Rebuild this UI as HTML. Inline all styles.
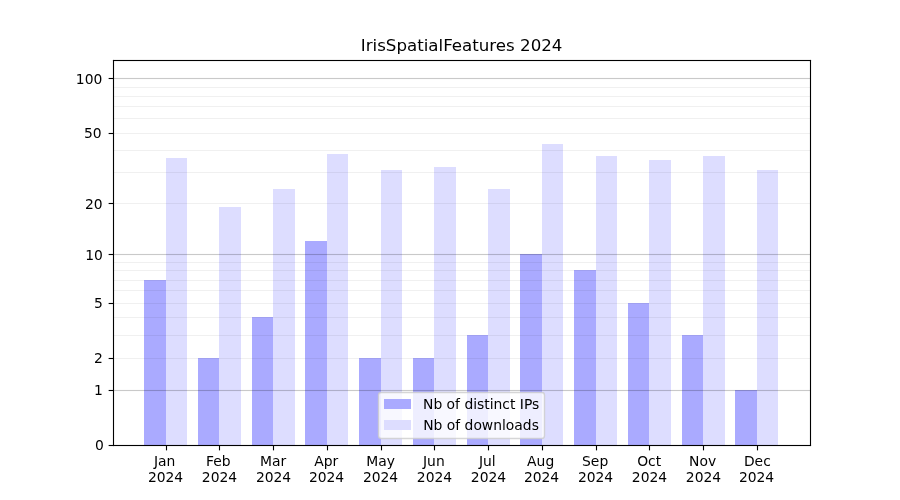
<!DOCTYPE html>
<html><head><meta charset="utf-8"><title>IrisSpatialFeatures 2024</title>
<style>html,body{margin:0;padding:0;background:#fff;width:900px;height:500px;overflow:hidden}</style>
</head><body>
<svg width="900" height="500" viewBox="0 0 900 500" style="display:block;will-change:transform">
<rect width="900" height="500" fill="#fff"/>
<g shape-rendering="crispEdges">
<rect x="144" y="280" width="22" height="165" fill="#aaaaff"/>
<rect x="198" y="358" width="21" height="87" fill="#aaaaff"/>
<rect x="252" y="317" width="21" height="128" fill="#aaaaff"/>
<rect x="305" y="241" width="22" height="204" fill="#aaaaff"/>
<rect x="359" y="358" width="22" height="87" fill="#aaaaff"/>
<rect x="413" y="358" width="21" height="87" fill="#aaaaff"/>
<rect x="467" y="335" width="21" height="110" fill="#aaaaff"/>
<rect x="520" y="254" width="22" height="191" fill="#aaaaff"/>
<rect x="574" y="270" width="22" height="175" fill="#aaaaff"/>
<rect x="628" y="303" width="21" height="142" fill="#aaaaff"/>
<rect x="682" y="335" width="21" height="110" fill="#aaaaff"/>
<rect x="735" y="390" width="22" height="55" fill="#aaaaff"/>
<rect x="166" y="158" width="21" height="287" fill="#ddddff"/>
<rect x="219" y="207" width="22" height="238" fill="#ddddff"/>
<rect x="273" y="189" width="22" height="256" fill="#ddddff"/>
<rect x="327" y="154" width="21" height="291" fill="#ddddff"/>
<rect x="381" y="170" width="21" height="275" fill="#ddddff"/>
<rect x="434" y="167" width="22" height="278" fill="#ddddff"/>
<rect x="488" y="189" width="22" height="256" fill="#ddddff"/>
<rect x="542" y="144" width="21" height="301" fill="#ddddff"/>
<rect x="596" y="156" width="21" height="289" fill="#ddddff"/>
<rect x="649" y="160" width="22" height="285" fill="#ddddff"/>
<rect x="703" y="156" width="22" height="289" fill="#ddddff"/>
<rect x="757" y="170" width="21" height="275" fill="#ddddff"/>
</g>
<g fill="#000">
<rect x="113" y="389.944" width="697" height="1.111" fill-opacity="0.21"/>
<rect x="113" y="253.944" width="697" height="1.111" fill-opacity="0.21"/>
<rect x="113" y="77.944" width="697" height="1.111" fill-opacity="0.21"/>
<rect x="113" y="357.944" width="697" height="1.111" fill-opacity="0.06"/>
<rect x="113" y="334.944" width="697" height="1.111" fill-opacity="0.06"/>
<rect x="113" y="316.944" width="697" height="1.111" fill-opacity="0.06"/>
<rect x="113" y="302.944" width="697" height="1.111" fill-opacity="0.06"/>
<rect x="113" y="289.944" width="697" height="1.111" fill-opacity="0.06"/>
<rect x="113" y="279.944" width="697" height="1.111" fill-opacity="0.06"/>
<rect x="113" y="269.944" width="697" height="1.111" fill-opacity="0.06"/>
<rect x="113" y="261.944" width="697" height="1.111" fill-opacity="0.06"/>
<rect x="113" y="202.944" width="697" height="1.111" fill-opacity="0.06"/>
<rect x="113" y="171.944" width="697" height="1.111" fill-opacity="0.06"/>
<rect x="113" y="149.944" width="697" height="1.111" fill-opacity="0.06"/>
<rect x="113" y="132.944" width="697" height="1.111" fill-opacity="0.06"/>
<rect x="113" y="117.944" width="697" height="1.111" fill-opacity="0.06"/>
<rect x="113" y="105.944" width="697" height="1.111" fill-opacity="0.06"/>
<rect x="113" y="95.944" width="697" height="1.111" fill-opacity="0.06"/>
<rect x="113" y="86.944" width="697" height="1.111" fill-opacity="0.06"/>
</g>
<g fill="#000">
<rect x="112.944" y="59.944" width="1.111" height="386.111"/>
<rect x="809.944" y="59.944" width="1.111" height="386.111"/>
<rect x="112.944" y="59.944" width="698.111" height="1.111"/>
<rect x="112.944" y="444.944" width="698.111" height="1.111"/>
<rect x="165.944" y="445.5" width="1.111" height="4.861"/>
<rect x="218.944" y="445.5" width="1.111" height="4.861"/>
<rect x="272.944" y="445.5" width="1.111" height="4.861"/>
<rect x="326.944" y="445.5" width="1.111" height="4.861"/>
<rect x="380.944" y="445.5" width="1.111" height="4.861"/>
<rect x="433.944" y="445.5" width="1.111" height="4.861"/>
<rect x="487.944" y="445.5" width="1.111" height="4.861"/>
<rect x="541.944" y="445.5" width="1.111" height="4.861"/>
<rect x="595.944" y="445.5" width="1.111" height="4.861"/>
<rect x="648.944" y="445.5" width="1.111" height="4.861"/>
<rect x="702.944" y="445.5" width="1.111" height="4.861"/>
<rect x="756.944" y="445.5" width="1.111" height="4.861"/>
<rect x="108.639" y="444.944" width="4.861" height="1.111"/>
<rect x="108.639" y="389.944" width="4.861" height="1.111"/>
<rect x="108.639" y="357.944" width="4.861" height="1.111"/>
<rect x="108.639" y="302.944" width="4.861" height="1.111"/>
<rect x="108.639" y="253.944" width="4.861" height="1.111"/>
<rect x="108.639" y="202.944" width="4.861" height="1.111"/>
<rect x="108.639" y="132.944" width="4.861" height="1.111"/>
<rect x="108.639" y="77.944" width="4.861" height="1.111"/>
</g>
<g>
<rect x="378.5" y="392.5" width="166" height="46" rx="2.778" fill="#ffffff" fill-opacity="0.8" stroke="#cccccc" stroke-opacity="0.8" stroke-width="1.389" stroke-linejoin="miter"/>
<rect x="384" y="399" width="27" height="10" fill="#aaaaff"/>
<rect x="384" y="420" width="27" height="10" fill="#ddddff"/>
</g>
<g font-family="'DejaVu Sans', 'Liberation Sans', sans-serif" fill="#000">
<text x="154.014" y="465.666" font-size="13.889">Jan</text>
<text x="147.896" y="481.748" font-size="13.889">2024</text>
<text x="206.012" y="465.506" font-size="13.889">Feb</text>
<text x="201.862" y="481.678" font-size="13.889">2024</text>
<text x="259.93" y="465.536" font-size="13.889">Mar</text>
<text x="255.889" y="481.688" font-size="13.889">2024</text>
<text x="314.205" y="465.526" font-size="13.889">Apr</text>
<text x="308.895" y="481.578" font-size="13.889">2024</text>
<text x="366.358" y="465.536" font-size="13.889">May</text>
<text x="362.902" y="481.748" font-size="13.889">2024</text>
<text x="423.011" y="465.576" font-size="13.889">Jun</text>
<text x="416.858" y="481.508" font-size="13.889">2024</text>
<text x="478.939" y="465.636" font-size="13.889">Jul</text>
<text x="470.865" y="481.508" font-size="13.889">2024</text>
<text x="527.095" y="465.666" font-size="13.889">Aug</text>
<text x="523.901" y="481.628" font-size="13.889">2024</text>
<text x="582.071" y="465.686" font-size="13.889">Sep</text>
<text x="577.878" y="481.568" font-size="13.889">2024</text>
<text x="637.15" y="465.726" font-size="13.889">Oct</text>
<text x="631.864" y="481.678" font-size="13.889">2024</text>
<text x="689.04" y="465.576" font-size="13.889">Nov</text>
<text x="685.861" y="481.678" font-size="13.889">2024</text>
<text x="743.952" y="465.646" font-size="13.889">Dec</text>
<text x="738.897" y="481.688" font-size="13.889">2024</text>
<text x="103.818" y="449.607" font-size="13.889" text-anchor="end">0</text>
<text x="102.888" y="394.527" font-size="13.889" text-anchor="end">1</text>
<text x="102.848" y="362.633" font-size="13.889" text-anchor="end">2</text>
<text x="102.898" y="307.623" font-size="13.889" text-anchor="end">5</text>
<text x="102.968" y="259.736" font-size="13.889" text-anchor="end">10</text>
<text x="102.708" y="208.642" font-size="13.889" text-anchor="end">20</text>
<text x="101.688" y="137.677" font-size="13.889" text-anchor="end">50</text>
<text x="102.308" y="83.63" font-size="13.889" text-anchor="end">100</text>
<text x="461.62" y="50.697" font-size="16.667" text-anchor="middle">IrisSpatialFeatures 2024</text>
<text x="423.015" y="408.605" font-size="13.889">Nb of distinct IPs</text>
<text x="423.195" y="429.612" font-size="13.889">Nb of downloads</text>
</g>
</svg>
</body></html>
